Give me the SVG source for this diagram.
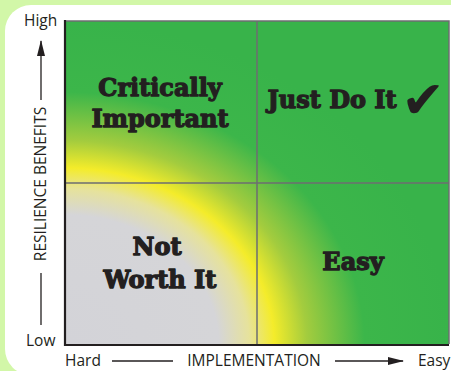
<svg xmlns="http://www.w3.org/2000/svg" width="451" height="371" viewBox="0 0 451 371">
<defs>
<radialGradient id="heat" gradientUnits="objectBoundingBox" cx="0" cy="1" r="1" fx="0" fy="1">
<stop offset="0" stop-color="#d3d3d8"/>
<stop offset="0.40" stop-color="#d5d5d8"/>
<stop offset="0.48" stop-color="#e6e29c"/>
<stop offset="0.545" stop-color="#f4ec2a"/>
<stop offset="0.63" stop-color="#a3cc3e"/>
<stop offset="0.78" stop-color="#3cb64a"/>
<stop offset="1" stop-color="#38b34a"/>
</radialGradient>
<marker id="arr" markerWidth="16" markerHeight="8" refX="15" refY="4" orient="auto" markerUnits="userSpaceOnUse">
<path d="M0,0 L16,4 L0,8 Z" fill="#231f20"/>
</marker>
</defs>
<style>
.ax{font-family:"Open Sans","Noto Sans",sans-serif;font-size:15.5px;fill:#231f20}
.q{font-family:"DejaVu Serif","Liberation Serif",serif;font-weight:bold;font-size:24px;fill:#231f20;stroke:#231f20;stroke-width:1.3;stroke-linejoin:round;text-anchor:middle}
.ln{stroke:#231f20;stroke-width:1.3;fill:none}
.div{stroke:#6d6e71;stroke-width:1.5;fill:none}
</style>
<rect x="0" y="0" width="451" height="371" fill="#d2f7a8"/>
<rect x="5" y="5" width="470" height="370" rx="26" fill="#ffffff"/>
<g id="chart">
<rect x="65" y="21" width="384" height="323" fill="url(#heat)"/>
<path class="div" d="M65,21 H449 V344"/>
<path class="div" d="M257,21 V344 M65,183 H449"/>
<path d="M65,20 V345 H449" stroke="#231f20" stroke-width="2.2" fill="none"/>
</g>
<g id="critically-important">
<text class="q" x="160" y="96">Critically</text>
<text class="q" x="160" y="127">Important</text>
</g>
<g id="just-do-it">
<text class="q" x="332" y="108">Just Do It</text>
<text x="423" y="118" font-family="DejaVu Sans,sans-serif" font-size="52" fill="#231f20" text-anchor="middle">✔</text>
</g>
<g id="not-worth-it">
<text class="q" x="157" y="255">Not</text>
<text class="q" x="160" y="288">Worth It</text>
</g>
<g id="easy">
<text class="q" x="353" y="270">Easy</text>
</g>
<g id="connectors">
<line class="ln" x1="41" y1="100" x2="41" y2="41" marker-end="url(#arr)"/>
<line class="ln" x1="41" y1="273" x2="41" y2="325"/>
<line class="ln" x1="112" y1="361" x2="173" y2="361"/>
<line class="ln" x1="335" y1="361" x2="403" y2="361" marker-end="url(#arr)"/>
</g>
<g id="labels">
<text class="ax" x="24" y="26">High</text>
<text class="ax" x="26" y="346">Low</text>
<text class="ax" x="65" y="366">Hard</text>
<text class="ax" x="254" y="366" text-anchor="middle">IMPLEMENTATION</text>
<text class="ax" x="418" y="366">Easy</text>
<text class="ax" transform="translate(46,184) rotate(-90)" text-anchor="middle">RESILIENCE BENEFITS</text>
</g>
</svg>
